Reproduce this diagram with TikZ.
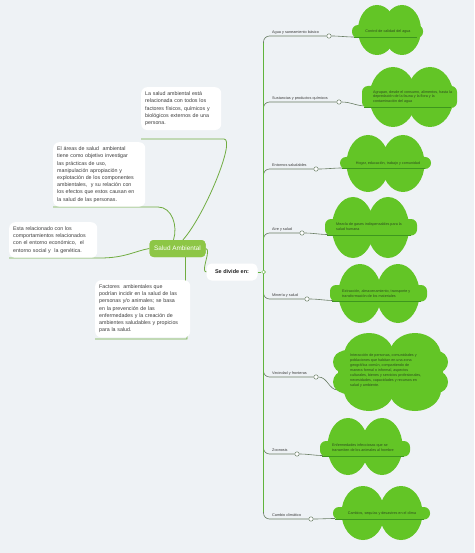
\documentclass[tikz,border=0pt]{standalone}
\usepackage{fontspec}
\setmainfont{Liberation Sans}
\definecolor{bg}{RGB}{238,242,245}
\definecolor{cloudg}{RGB}{99,197,38}
\definecolor{cloudl}{RGB}{62,150,30}
\definecolor{leftg}{RGB}{112,172,64}
\definecolor{trunkg}{RGB}{96,180,60}
\definecolor{brg}{RGB}{105,125,100}
\definecolor{rootg}{RGB}{141,198,70}
\definecolor{ctext}{RGB}{45,75,30}
\definecolor{btext}{RGB}{60,60,60}
\newcommand{\cloudtwo}[9]{%
  \fill[cloudg] (#1,#3) ellipse [x radius=#4pt, y radius=#5pt];
  \fill[cloudg] (#2,#3) ellipse [x radius=#4pt, y radius=#5pt];
  \fill[cloudg, rounded corners=6pt] (#6,#8) rectangle (#7,#9);
  \draw[cloudl, line width=0.6pt] (#6+2,#9-0.5) -- (#7-6,#9-0.5);
}
\begin{document}
\begin{tikzpicture}[x=1pt,y=-1pt,
  infobox/.style={fill=white, rounded corners=6pt, inner xsep=4pt, inner ysep=4.5pt, align=left, anchor=north west, text=btext, font=\fontsize{5.3}{7.2}\selectfont},
  leftline/.style={draw=leftg, line width=0.8pt},
  branchline/.style={draw=brg, line width=0.6pt, rounded corners=6pt},
  trunk/.style={draw=trunkg, line width=1pt},
  conn/.style={draw=brg, line width=0.6pt},
  dot/.style={circle, draw=brg, fill=white, line width=0.5pt, minimum size=4.4pt, inner sep=0pt},
  lbl/.style={anchor=south west, inner sep=0pt, text=btext, font=\fontsize{3.8}{4.6}\selectfont},
  ctxt/.style={text=ctext, inner sep=0pt, font=\fontsize{3.7}{4.9}\selectfont, align=left},
  root/.style={fill=rootg, rounded corners=4pt, minimum width=56pt, minimum height=17pt, text=white, font=\fontsize{6.4}{7}\selectfont, inner sep=1pt},
  sdbox/.style={fill=white, rounded corners=5pt, minimum width=51pt, minimum height=17pt, text=black!85, font=\bfseries\fontsize{5.5}{6}\selectfont, inner sep=1pt}
]
\fill[bg] (0,0) rectangle (474,553);
\useasboundingbox (0,0) rectangle (474,553);

% root and first level
\node[root] (sa) at (177.5,248.5) {Salud Ambiental};
\node[sdbox] (sd) at (232,272) {Se divide en:};
\node[dot, draw=trunkg, minimum size=3.8pt] (sdc) at (263.5,272) {};

% left lines
\coordinate (aS) at (141,139); \coordinate (aE) at (224,139);
\coordinate (bS) at (53,207);  \coordinate (bE) at (158,207);
\coordinate (cS) at (9,258);   \coordinate (cE) at (100,258);
\coordinate (dS) at (95,339);  \coordinate (dE) at (187,339);
\draw[leftline] (aS) -- (aE) .. controls (236,139) and (205,215) .. ([xshift=5.5pt]sa.north);
\draw[leftline] (bS) -- (bE) .. controls (172,207) and (178,226) .. ([xshift=-4pt]sa.north);
\draw[leftline] (cS) -- (cE) .. controls (125,258) and (135,251) .. (sa.west);
\draw[leftline] ([xshift=8pt]sa.south) .. controls (185,290) and (187,320) .. (dE) -- (dS);
\draw[leftline] (sa.east) .. controls (212,249) and (200,272) .. (sd.west);

% left boxes
\node[infobox, text width=72pt] (A) at (141,87) {La salud ambiental está\\relacionada con todos los\\factores físicos, químicos y\\biológicos externos de una\\persona.};
\node[infobox, text width=84pt] (B) at (53,142) {El áreas de salud \ ambiental\\tiene como objetivo investigar\\las prácticas de uso,\\manipulación apropiación y\\explotación de los componentes\\ambientales, \ y su relación con\\los efectos que estos causan en\\la salud de las personas.};
\node[infobox, text width=80pt] (C) at (9,222) {Esta relacionado con los\\comportamientos relacionados\\con el entorno económico, \ el\\entorno social y \ la genética.};
\node[infobox, text width=87pt] (D) at (95,280) {Factores \ ambientales que\\podrían incidir en la salud de las\\personas y/o animales; se basa\\en la prevención de las\\enfermedades y la creación de\\ambientes saludables y propicios\\para la salud.};

\node[root] at (sa) {Salud Ambiental};
\draw[trunk] (sd.east) -- (sdc);

% branch dots
\node[dot] (c1) at (329,36) {};
\node[dot] (c2) at (339,102) {};
\node[dot] (c3) at (316,169) {};
\node[dot] (c4) at (302,233) {};
\node[dot] (c5) at (307,299) {};
\node[dot] (c6) at (316,377) {};
\node[dot] (c7) at (297,454) {};
\node[dot] (c8) at (311,519) {};

% branches
\draw[branchline] (sdc) -- (263.5,36) -- (c1);
\draw[branchline] (sdc) -- (263.5,102) -- (c2);
\draw[branchline] (sdc) -- (263.5,169) -- (c3);
\draw[branchline] (sdc) -- (263.5,233) -- (c4);
\draw[branchline] (sdc) -- (263.5,299) -- (c5);
\draw[branchline] (sdc) -- (263.5,377) -- (c6);
\draw[branchline] (sdc) -- (263.5,454) -- (c7);
\draw[branchline] (sdc) -- (263.5,519) -- (c8);
\draw[trunk] (sdc) -- (263.5,43);
\draw[trunk] (sdc) -- (263.5,512);

% connectors to clouds
\coordinate (k1) at (354,37);
\coordinate (k2) at (366,106);
\coordinate (k3) at (342,168);
\coordinate (k4) at (328,234.5);
\coordinate (k5) at (334,300.5);
\coordinate (k6) at (338,390);
\coordinate (k7) at (323,455.5);
\coordinate (k8) at (335,518.5);
\foreach \i in {1,...,8} { \draw[conn] (c\i) to[out=0,in=180] (k\i); }

% clouds
\cloudtwo{377}{402}{30}{19}{25}{352}{423}{25}{38}
\cloudtwo{393}{430}{97}{23.5}{30}{362}{457}{86}{108}
\cloudtwo{368}{403}{163.5}{21.5}{28.5}{340}{431}{157}{169}
\cloudtwo{353}{388}{227.5}{21}{30.5}{325}{417}{219}{235.5}
\cloudtwo{360}{398}{293.5}{21.5}{29.5}{330}{427}{285}{301.5}
\cloudtwo{348}{382}{446.5}{20.5}{28.5}{320}{410}{441}{456.5}
\cloudtwo{363}{401}{513}{21.5}{27}{333}{430}{507}{519.5}
% big cloud
\fill[cloudg, rounded corners=8pt] (338,350) rectangle (443,394);
\fill[cloudg] (369,356) ellipse [x radius=25pt, y radius=23pt];
\fill[cloudg] (415,356) ellipse [x radius=26pt, y radius=23pt];
\fill[cloudg] (369,390) ellipse [x radius=25pt, y radius=21pt];
\fill[cloudg] (415,390) ellipse [x radius=26pt, y radius=21pt];
\fill[cloudg] (344,362) circle [radius=11pt];
\fill[cloudg] (344,382) circle [radius=11pt];
\fill[cloudg] (437,362) circle [radius=11pt];
\fill[cloudg] (437,382) circle [radius=11pt];

% cloud texts
\node[ctxt] (t1) at (388,31.5) {Control de calidad del agua};
\node[ctxt, anchor=west] (t2) at (373,97) {Agrupan, desde el consumo, alimentos, hasta la\\depredación de la fauna y la flora y la\\contaminación del agua};
\node[ctxt] (t3) at (388,163.5) {Hogar, educación, trabajo y comunidad};
\node[ctxt, anchor=west] (t4) at (336,226.5) {Mezcla de gases indispensables para la\\salud humana};
\node[ctxt, anchor=west] (t5) at (342,293.5) {Extracción, almacenamiento, transporte y\\transformación de los materiales};
\node[ctxt, anchor=west, font=\fontsize{3.7}{4.85}\selectfont] (t6) at (350,370.5) {Interacción de personas, comunidades y\\poblaciones que habitan en una zona\\geográfica común, compartiendo de\\manera formal o informal, aspectos\\culturales, bienes y servicios profesionales,\\necesidades, capacidades y recursos en\\salud y ambiente.};
\node[ctxt, anchor=west] (t7) at (332,448) {Enfermedades infecciosas que se\\transmiten de los animales al hombre};
\node[ctxt] (t8) at (382,513.5) {Cambios, sequías y desastres en el clima};

% branch labels
\node[lbl] (l1) at (272,34) {Agua y saneamiento básico};
\node[lbl] (l2) at (272,100) {Sustancias y productos químicos};
\node[lbl] (l3) at (272,167) {Entornos saludables};
\node[lbl] (l4) at (272,231) {Aire y salud};
\node[lbl] (l5) at (272,297) {Minería y salud};
\node[lbl] (l6) at (272,375) {Vecindad y fronteras};
\node[lbl] (l7) at (272,452) {Zoonosis};
\node[lbl] (l8) at (272,517) {Cambio climático};
\end{tikzpicture}
\end{document}
